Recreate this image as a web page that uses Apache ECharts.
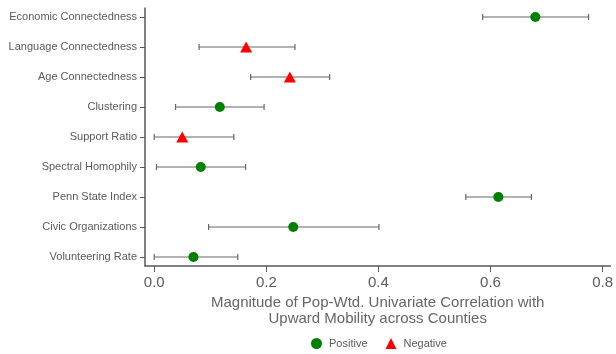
<!DOCTYPE html>
<html>
<head>
<meta charset="utf-8">
<script src="https://cdn.jsdelivr.net/npm/echarts@6/dist/echarts.min.js"></script>
<style>
  html, body { margin: 0; padding: 0; background: #fff; }
  #chart { width: 616px; height: 354px; }
</style>
</head>
<body>
<div id="chart"></div>
<script>
// Measures, listed top to bottom
const categories = [
  'Economic Connectedness', 'Language Connectedness', 'Age Connectedness',
  'Clustering', 'Support Ratio', 'Spectral Homophily',
  'Penn State Index', 'Civic Organizations', 'Volunteering Rate'
];
// Magnitude of the correlation and its interval
const estimate = [0.680, 0.164, 0.242, 0.117, 0.050, 0.083, 0.614, 0.248, 0.070];
const lower    = [0.586, 0.080, 0.172, 0.038, 0.000, 0.004, 0.556, 0.097, 0.000];
const upper    = [0.775, 0.251, 0.313, 0.196, 0.142, 0.163, 0.673, 0.401, 0.149];
// Sign of the correlation
const sign = ['Positive', 'Negative', 'Negative', 'Positive', 'Negative', 'Positive', 'Positive', 'Positive', 'Positive'];
const xTicks = [0, 0.2, 0.4, 0.6, 0.8];

const idx = categories.map((_, i) => i);
const posData = idx.filter(i => sign[i] === 'Positive').map(i => [estimate[i], i]);
const negData = idx.filter(i => sign[i] === 'Negative').map(i => [estimate[i], i]);
const barData = idx.map(i => [lower[i], upper[i], i]);

const axisGray = '#595959';
const textGray = '#5a5a5a';

const chart = echarts.init(document.getElementById('chart'), null, { renderer: 'canvas' });
chart.setOption({
  animation: false,
  textStyle: { fontFamily: 'Liberation Sans, Arial, sans-serif' },
  grid: { left: 145, right: 3, top: 8, bottom: 88, containLabel: false },
  xAxis: {
    type: 'value',
    min: -0.0165,
    max: 0.814,
    axisLine: { show: true, onZero: false, lineStyle: { color: axisGray, width: 1.5 } },
    axisTick: { show: true, length: 6, lineStyle: { color: axisGray, width: 1 }, customValues: xTicks },
    axisLabel: {
      customValues: xTicks, color: textGray, fontSize: 15, margin: 9,
      formatter: v => v.toFixed(1)
    },
    splitLine: { show: false },
    name: 'Magnitude of Pop-Wtd. Univariate Correlation with\nUpward Mobility across Counties',
    nameLocation: 'middle',
    nameGap: 27,
    nameTextStyle: { color: '#666', fontSize: 15, lineHeight: 16, verticalAlign: 'top' }
  },
  yAxis: {
    type: 'value',
    inverse: true,
    min: -0.3,
    max: 8.3,
    axisLine: { show: true, onZero: false, lineStyle: { color: axisGray, width: 1.5 } },
    axisTick: { show: true, length: 5, lineStyle: { color: axisGray, width: 1 }, customValues: idx },
    axisLabel: {
      customValues: idx, color: textGray, fontSize: 11, margin: 8,
      formatter: v => categories[Math.round(v)] || ''
    },
    splitLine: { show: false }
  },
  legend: {
    top: 333,
    left: 306,
    itemWidth: 11,
    itemHeight: 11,
    itemGap: 18,
    textStyle: { color: textGray, fontSize: 11, padding: [0, 0, 0, 2] },
    data: [
      { name: 'Positive', icon: 'circle' },
      { name: 'Negative', icon: 'triangle' }
    ]
  },
  series: [
    {
      type: 'custom',
      name: 'interval',
      data: barData,
      z: 1,
      silent: true,
      renderItem: function (params, api) {
        const y = api.value(2);
        const a = api.coord([api.value(0), y]);
        const b = api.coord([api.value(1), y]);
        const h = 3;
        const style = { stroke: '#666', lineWidth: 1.2 };
        return {
          type: 'group',
          children: [
            { type: 'line', shape: { x1: a[0], y1: a[1], x2: b[0], y2: b[1] }, style },
            { type: 'line', shape: { x1: a[0], y1: a[1] - h, x2: a[0], y2: a[1] + h }, style },
            { type: 'line', shape: { x1: b[0], y1: b[1] - h, x2: b[0], y2: b[1] + h }, style }
          ]
        };
      }
    },
    {
      type: 'scatter',
      name: 'Positive',
      symbol: 'circle',
      symbolSize: 10,
      itemStyle: { color: '#008000', opacity: 1 },
      data: posData,
      z: 3
    },
    {
      type: 'scatter',
      name: 'Negative',
      symbol: 'triangle',
      symbolSize: [12, 11],
      itemStyle: { color: '#ff0000', opacity: 1 },
      data: negData,
      z: 3
    }
  ]
});
</script>
</body>
</html>
